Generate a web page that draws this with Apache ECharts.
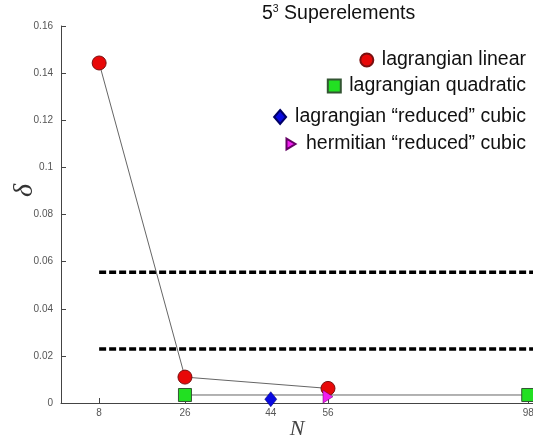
<!DOCTYPE html>
<html>
<head>
<meta charset="utf-8">
<script src="https://cdn.jsdelivr.net/npm/echarts@6/dist/echarts.min.js"></script>
<style>html,body{margin:0;padding:0;background:#fff;}#c{width:533px;height:445px;}</style>
</head>
<body>
<div id="c"></div>
<script>
// ---- data ----
const nTicks = [8, 26, 44, 56, 98];
const linearN = [8, 26, 56];
const linearDelta = [0.1443, 0.011, 0.0062];
const quadN = [26, 98];
const quadDelta = [0.0034, 0.0034];
const lagCubicN = [44];
const lagCubicDelta = [0.0016];
const hermCubicN = [56];
const hermCubicDelta = [0.0027];
const thresholdN = [8, 99];
const upperThreshold = [0.0555, 0.0555];
const lowerThreshold = [0.0229, 0.0229];
const seriesNames = ['lagrangian linear', 'lagrangian quadratic', 'lagrangian \u201creduced\u201d cubic', 'hermitian \u201creduced\u201d cubic'];

const pairs = (xs, ys) => xs.map((x, i) => [x, ys[i]]);
const triRight = 'path://M0,0 L10,6 L0,12 Z';

const legendCfg = [
  { icon: 'circle', w: 14, h: 13, top: 50 },
  { icon: 'rect', w: 13, h: 13, top: 76 },
  { icon: 'diamond', w: 12, h: 14, top: 107 },
  { icon: triRight, w: 9, h: 12, top: 134 }
];

const chart = echarts.init(document.getElementById('c'), null, { renderer: 'canvas' });
chart.setOption({
  backgroundColor: '#ffffff',
  animation: false,
  title: {
    text: '5{s|3} Superelements',
    left: 262, top: 4, padding: 0,
    textStyle: {
      fontFamily: 'Liberation Sans', fontSize: 19.5, fontWeight: 'normal', color: '#111',
      rich: { s: { fontFamily: 'Liberation Sans', fontSize: 10.5, color: '#111', padding: [0, 0, 9, 0] } }
    }
  },
  legend: seriesNames.map((name, i) => ({
    data: [{ name: name, icon: legendCfg[i].icon }],
    orient: 'vertical',
    right: 7,
    top: legendCfg[i].top,
    padding: 0,
    itemWidth: legendCfg[i].w,
    itemHeight: legendCfg[i].h,
    selectedMode: false,
    textStyle: { fontFamily: 'Liberation Sans', fontSize: 19.5, color: '#111', padding: [0, 0, 0, Math.max(0, 15 - legendCfg[i].w / 2 - 5)] }
  })),
  grid: { left: 61, right: 0, top: 26, bottom: 42, containLabel: false, outerBoundsMode: 'none' },
  xAxis: {
    type: 'value', min: 0, max: 99,
    name: 'N', nameLocation: 'middle', nameGap: 15, nameMoveOverlap: false,
    nameTextStyle: { fontFamily: 'Liberation Serif', fontStyle: 'italic', fontSize: 22, color: '#444' },
    axisLine: { lineStyle: { color: '#444', width: 1 } },
    axisTick: { inside: true, length: 5, customValues: nTicks, lineStyle: { color: '#444' } },
    axisLabel: { customValues: nTicks, margin: 5, fontFamily: 'Liberation Sans', fontSize: 10, color: '#555' },
    splitLine: { show: false }
  },
  yAxis: {
    type: 'value', min: 0, max: 0.16, interval: 0.02,
    name: '\u03b4', nameLocation: 'middle', nameGap: 22, nameMoveOverlap: false,
    nameTextStyle: { fontFamily: 'Liberation Serif', fontStyle: 'italic', fontSize: 28, color: '#333', padding: [0, 0, 0, 48] },
    axisLine: { show: true, lineStyle: { color: '#444', width: 1 } },
    axisTick: { show: true, inside: true, length: 5, lineStyle: { color: '#444' } },
    axisLabel: { margin: 8, fontFamily: 'Liberation Sans', fontSize: 10, color: '#555' },
    splitLine: { show: false }
  },
  series: [
    {
      type: 'line', data: pairs(thresholdN, upperThreshold), symbol: 'none', silent: true, z: 1,
      lineStyle: { color: '#000', width: 3.5, type: [7, 3] }
    },
    {
      type: 'line', data: pairs(thresholdN, lowerThreshold), symbol: 'none', silent: true, z: 1,
      lineStyle: { color: '#000', width: 3.5, type: [7, 3] }
    },
    {
      name: seriesNames[0], type: 'line', data: pairs(linearN, linearDelta), z: 3,
      symbol: 'circle', symbolSize: 14,
      itemStyle: { color: '#e80808', borderColor: '#7a1010', borderWidth: 1 },
      lineStyle: { color: '#666', width: 1 }
    },
    {
      name: seriesNames[1], type: 'line', data: pairs(quadN, quadDelta), z: 3,
      symbol: 'rect', symbolSize: 13,
      itemStyle: { color: '#22e022', borderColor: '#335533', borderWidth: 1 },
      lineStyle: { color: '#666', width: 1 }
    },
    {
      name: seriesNames[2], type: 'scatter', data: pairs(lagCubicN, lagCubicDelta), z: 4,
      symbol: 'diamond', symbolSize: [12, 15],
      itemStyle: { color: '#0a0ae0', borderColor: '#000066', borderWidth: 0.5, opacity: 1 }
    },
    {
      name: seriesNames[3], type: 'scatter', data: pairs(hermCubicN, hermCubicDelta), z: 4,
      symbol: triRight, symbolSize: [10, 13],
      itemStyle: { color: '#f020f0', borderColor: '#660066', borderWidth: 0.5, opacity: 1 }
    }
  ]
});
</script>
</body>
</html>
